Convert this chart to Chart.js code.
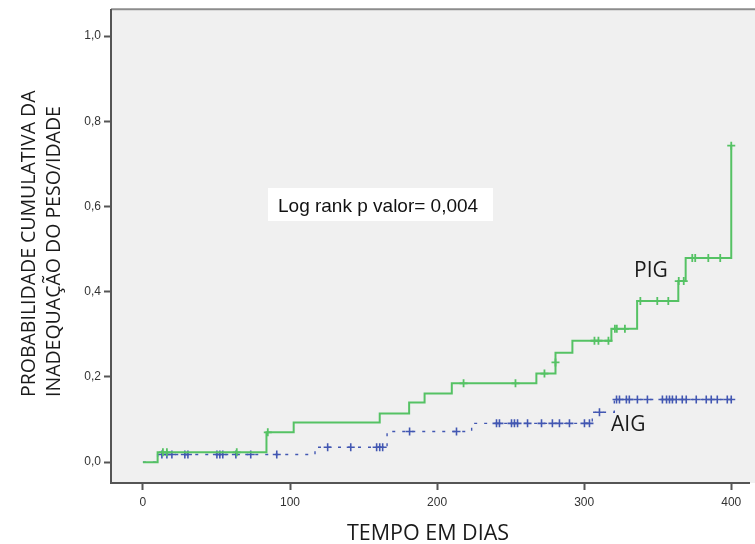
<!DOCTYPE html>
<html>
<head>
<meta charset="utf-8">
<title>Probabilidade cumulativa - PIG x AIG</title>
<script src="https://cdn.jsdelivr.net/npm/chart.js@4.4.1/dist/chart.umd.min.js"></script>
<style>
  html, body { margin: 0; padding: 0; background: #fff; }
  canvas { display: block; }
</style>
</head>
<body>
<canvas id="kmChart" width="755" height="544"></canvas>
<script>
// PIG: day of each step and cumulative value after the step
const pigStepDays   = [0, 10, 84, 102.5, 161, 181, 191.5, 210, 267.5, 280.5, 292, 318.5, 336, 364, 369, 400];
const pigStepValues = [0, 0.023, 0.070, 0.093, 0.114, 0.140, 0.161, 0.185, 0.208, 0.257, 0.285, 0.313, 0.378, 0.425, 0.479, 0.743];

// PIG censored cases
const pigCensorDays   = [13.6, 16.3, 63.8, 84.9, 218, 253.3, 273, 280.5, 307, 309.7, 316.5, 320.9, 322.2, 327.7,
                         338.2, 349.7, 357.2, 364.3, 367.7, 373.5, 375.5, 384.4, 392.5, 400];
const pigCensorValues = [0.023, 0.023, 0.023, 0.070, 0.185, 0.185, 0.208, 0.234, 0.285, 0.285, 0.285, 0.313, 0.313, 0.313,
                         0.378, 0.378, 0.378, 0.425, 0.425, 0.479, 0.479, 0.479, 0.479, 0.743];

// AIG: steps
const aigStepDays   = [0, 10, 117, 166, 223.5, 305.5, 320.5, 400];
const aigStepValues = [0, 0.018, 0.035, 0.072, 0.091, 0.117, 0.147, 0.147];

// AIG censored cases
const aigCensorDays = [12.9, 16.3, 19.7, 28.5, 30.6, 50.3, 52.3, 54.3, 63.2, 73.3, 91,
                       125.6, 141.3, 158.9, 161, 163,
                       181.3, 213.2,
                       240.4, 242.4, 250.6, 252.6, 254.7, 261.5, 271, 278.4, 283.2, 290, 300.2, 303.6,
                       310.4,
                       322, 324, 328.7, 330.7, 336.2, 343, 353.2, 356, 358, 360, 362.6, 366.7, 369.4,
                       376.2, 383, 386.4, 390.5, 397.3, 400];
const aigCensorValues = [0.018, 0.018, 0.018, 0.018, 0.018, 0.018, 0.018, 0.018, 0.018, 0.018, 0.018,
                         0.035, 0.035, 0.035, 0.035, 0.035,
                         0.072, 0.072,
                         0.091, 0.091, 0.091, 0.091, 0.091, 0.091, 0.091, 0.091, 0.091, 0.091, 0.091, 0.091,
                         0.117,
                         0.147, 0.147, 0.147, 0.147, 0.147, 0.147, 0.147, 0.147, 0.147, 0.147, 0.147, 0.147, 0.147,
                         0.147, 0.147, 0.147, 0.147, 0.147, 0.147];

// Tick labels
const xTicks = [0, 100, 200, 300, 400];
const yTicks = [0, 0.2, 0.4, 0.6, 0.8, 1.0];

const pigColor = '#55c264';
const aigColor = '#4257b2';

function toPoints(xs, ys) {
  return xs.map((x, i) => ({ x: x, y: ys[i] }));
}

// Background of plot area, its top border and the text annotations
const decorPlugin = {
  id: 'decor',
  beforeDraw(chart) {
    const ctx = chart.ctx;
    const a = chart.chartArea;
    ctx.save();
    ctx.fillStyle = '#ffffff';
    ctx.fillRect(0, 0, chart.width, chart.height);
    ctx.fillStyle = '#f0f0f0';
    ctx.fillRect(a.left, a.top, chart.width - a.left, a.bottom - a.top);
    ctx.strokeStyle = '#8c8c8c';
    ctx.lineWidth = 2;
    ctx.beginPath();
    ctx.moveTo(a.left, a.top - 1);
    ctx.lineTo(chart.width, a.top - 1);
    ctx.stroke();
    ctx.restore();
  },
  afterDraw(chart) {
    const ctx = chart.ctx;
    ctx.save();

    // Log rank box
    ctx.fillStyle = '#ffffff';
    ctx.fillRect(268, 188, 225, 33);
    ctx.fillStyle = '#111111';
    ctx.font = '19px "Liberation Sans", Arial, sans-serif';
    ctx.textBaseline = 'alphabetic';
    ctx.textAlign = 'left';
    ctx.fillText('Log rank p valor= 0,004', 278, 212);

    // Group labels
    ctx.font = '21px "Open Sans", sans-serif';
    ctx.fillStyle = '#1a1a1a';
    ctx.fillText('PIG', 634, 277);
    ctx.fillText('AIG', 611, 431);

    // X title
    ctx.font = '21.5px "Open Sans", sans-serif';
    ctx.textAlign = 'center';
    ctx.fillText('TEMPO EM DIAS', 428, 540);

    // Y title (two lines, rotated)
    ctx.font = '19.5px "Open Sans", sans-serif';
    ctx.textAlign = 'left';
    ctx.translate(0, 397);
    ctx.rotate(-Math.PI / 2);
    ctx.fillText('PROBABILIDADE CUMULATIVA DA', 0, 35);
    ctx.fillText('INADEQUAÇÃO DO PESO/IDADE', 0, 60);
    ctx.restore();
  }
};

new Chart(document.getElementById('kmChart'), {
  type: 'line',
  data: {
    datasets: [
      {
        label: 'PIG',
        data: toPoints(pigStepDays, pigStepValues),
        stepped: 'before',
        borderColor: pigColor,
        borderWidth: 2,
        pointRadius: 0,
        fill: false
      },
      {
        label: 'PIG censurado',
        type: 'scatter',
        data: toPoints(pigCensorDays, pigCensorValues),
        pointStyle: 'cross',
        pointRadius: 4,
        pointBorderWidth: 1.8,
        borderColor: pigColor,
        backgroundColor: pigColor
      },
      {
        label: 'AIG',
        data: toPoints(aigStepDays, aigStepValues),
        stepped: 'before',
        borderColor: aigColor,
        borderWidth: 1.4,
        borderDash: [3, 7],
        pointRadius: 0,
        fill: false
      },
      {
        label: 'AIG censurado',
        type: 'scatter',
        data: toPoints(aigCensorDays, aigCensorValues),
        pointStyle: 'cross',
        pointRadius: 4,
        pointBorderWidth: 1.6,
        borderColor: aigColor,
        backgroundColor: aigColor
      }
    ]
  },
  options: {
    responsive: false,
    animation: false,
    layout: { padding: { top: 6, left: 0, right: 0, bottom: 0 } },
    plugins: {
      legend: { display: false },
      tooltip: { enabled: false }
    },
    scales: {
      x: {
        type: 'linear',
        min: -21.7,
        max: 412.2,
        afterBuildTicks: scale => { scale.ticks = xTicks.map(v => ({ value: v })); },
        afterFit: scale => { scale.height = 61; },
        grid: { drawOnChartArea: false, drawTicks: true, tickLength: 7, tickWidth: 2, color: '#555' },
        border: { display: true, color: '#555', width: 2 },
        ticks: {
          padding: 5,
          color: '#333',
          font: { family: '"Liberation Sans", Arial, sans-serif', size: 12 },
          callback: v => String(v)
        }
      },
      y: {
        type: 'linear',
        min: -0.049,
        max: 1.061,
        afterBuildTicks: scale => { scale.ticks = yTicks.map(v => ({ value: v })); },
        afterFit: scale => { scale.width = 111; },
        grid: { drawOnChartArea: false, drawTicks: true, tickLength: 7, tickWidth: 2, color: '#555' },
        border: { display: true, color: '#555', width: 2 },
        ticks: {
          padding: 3,
          color: '#333',
          font: { family: '"Liberation Sans", Arial, sans-serif', size: 12 },
          callback: v => v.toFixed(1).replace('.', ',')
        }
      }
    }
  },
  plugins: [decorPlugin]
});
</script>
</body>
</html>
